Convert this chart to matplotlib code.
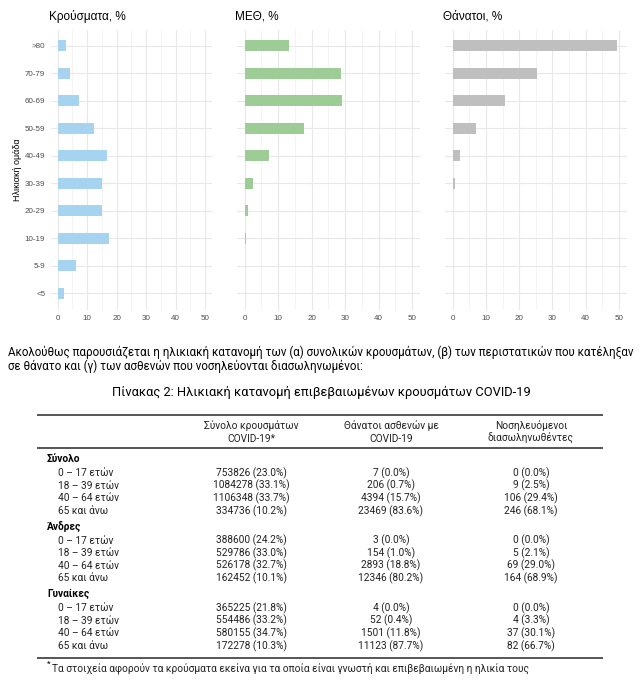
import matplotlib
matplotlib.use("Agg")
import matplotlib.pyplot as plt
import numpy as np

W, H = 642, 689

# ---------------- data ----------------
age_groups = ['<5', '5-9', '10-19', '20-29', '30-39', '40-49', '50-59', '60-69', '70-79', '>80']
cases_pct = [2.3, 6.1, 17.5, 14.9, 14.9, 16.9, 12.3, 7.3, 4.2, 2.7]
icu_pct = [0.2, 0.05, 0.3, 0.9, 2.4, 7.3, 17.6, 29.1, 28.7, 13.1]
deaths_pct = [0.0, 0.0, 0.05, 0.2, 0.6, 2.3, 6.9, 15.6, 25.2, 49.4]
panel_titles = ['Κρούσματα, %', 'ΜΕΘ, %', 'Θάνατοι, %']
x_ticks = [0, 10, 20, 30, 40, 50]

table_groups = ['Σύνολο', 'Άνδρες', 'Γυναίκες']
table_ages = ['0 – 17 ετών', '18 – 39 ετών', '40 – 64 ετών', '65 και άνω']
col_headers = ['Σύνολο κρουσμάτων\nCOVID-19*', 'Θάνατοι ασθενών με\nCOVID-19', 'Νοσηλευόμενοι\nδιασωληνωθέντες']
cases_n = [[753826, 1084278, 1106348, 334736],
           [388600, 529786, 526178, 162452],
           [365225, 554486, 580155, 172278]]
cases_p = [[23.0, 33.1, 33.7, 10.2],
           [24.2, 33.0, 32.7, 10.1],
           [21.8, 33.2, 34.7, 10.3]]
deaths_n = [[7, 206, 4394, 23469],
            [3, 154, 2893, 12346],
            [4, 52, 1501, 11123]]
deaths_p = [[0.0, 0.7, 15.7, 83.6],
            [0.0, 1.0, 18.8, 80.2],
            [0.0, 0.4, 11.8, 87.7]]
intub_n = [[0, 9, 106, 246],
           [0, 5, 69, 164],
           [0, 4, 37, 82]]
intub_p = [[0.0, 2.5, 29.4, 68.1],
           [0.0, 2.1, 29.0, 68.9],
           [0.0, 3.3, 30.1, 66.7]]

paragraph = ["Ακολούθως παρουσιάζεται η ηλικιακή κατανομή των (α) συνολικών κρουσμάτων, (β) των περιστατικών που κατέληξαν",
             "σε θάνατο και (γ) των ασθενών που νοσηλεύονται διασωληνωμένοι:"]
caption = "Πίνακας 2: Ηλικιακή κατανομή επιβεβαιωμένων κρουσμάτων COVID-19"
footnote = "Τα στοιχεία αφορούν τα κρούσματα εκείνα για τα οποία είναι γνωστή και επιβεβαιωμένη η ηλικία τους"

plt.rcParams['font.family'] = ['Liberation Sans', 'DejaVu Sans']

fig = plt.figure(figsize=(W / 100, H / 100), dpi=100)
fig.patch.set_facecolor('white')


def fy(py):
    return 1 - py / H


def fx(px):
    return px / W


# ---------------- bar panels ----------------
colors = ['#a6d3ef', '#9dcc97', '#bfbfbf']
series = [cases_pct, icu_pct, deaths_pct]
xlim = (-2.3, 52.4)
zero_fifty = [(57.7, 205.0), (244.7, 412.0), (452.7, 619.0)]
top_px, bot_px = 29.5, 309.5
ypos = np.arange(len(age_groups))

for i, (vals, col, title) in enumerate(zip(series, colors, panel_titles)):
    p0, p50 = zero_fifty[i]
    ppu = (p50 - p0) / 50.0
    left = p0 + xlim[0] * ppu
    right = p0 + xlim[1] * ppu
    ax = fig.add_axes([fx(left), fy(bot_px), (right - left) / W, (bot_px - top_px) / H])
    ax.barh(ypos, vals, height=0.4, color=col, zorder=3)
    ax.set_xlim(*xlim)
    ax.set_ylim(-0.6, len(age_groups) - 0.4)
    ax.set_xticks(x_ticks)
    ax.set_xticks([5, 15, 25, 35, 45], minor=True)
    ax.set_yticks(ypos)
    ax.grid(which='major', color='#e8e8e8', linewidth=0.8, zorder=0)
    ax.grid(which='minor', axis='x', color='#f0f0f0', linewidth=0.5, zorder=0)
    for s in ax.spines.values():
        s.set_visible(False)
    ax.tick_params(which='both', length=0, labelsize=5.8, labelcolor='#4d4d4d', pad=4)
    if i == 0:
        ax.set_yticklabels(age_groups)
        ax.set_ylabel('Ηλικιακή ομάδα', fontsize=6.5)
        ax.yaxis.set_label_coords((21.5 - left) / (right - left), 0.5)
    else:
        ax.set_yticklabels([])
    ax.set_title(title, loc='left', fontsize=8.5, pad=7, x=-0.01)

# ---------------- paragraph & caption ----------------
txt_font = ['Roboto', 'DejaVu Sans']
fig.text(fx(8), fy(352), paragraph[0], fontsize=8.3, family=txt_font, va='center', ha='left')
fig.text(fx(8), fy(366), paragraph[1], fontsize=8.3, family=txt_font, va='center', ha='left')
fig.text(fx(321), fy(392), caption, fontsize=9.3, family=txt_font, va='center', ha='center')

# ---------------- table ----------------
tax = fig.add_axes([0, 0, 1, 1])
tax.set_xlim(0, W)
tax.set_ylim(H, 0)
tax.axis('off')

rule_kw = dict(color='#555555', linewidth=1.4)
tax.plot([38, 602], [415, 415], **rule_kw)
tax.plot([38, 602], [448, 448], **rule_kw)
tax.plot([38, 602], [658, 658], **rule_kw)

col_x = [251, 391, 531]
tfs = 7.3
for cx, hdr in zip(col_x, col_headers):
    l1, l2 = hdr.split('\n')
    tax.text(cx, 426, l1, fontsize=tfs, family=txt_font, ha='center', va='center', color='#222222')
    tax.text(cx, 438.5, l2, fontsize=tfs, family=txt_font, ha='center', va='center', color='#222222')

group_y = [459, 526.5, 594]
row_dy = 12.6
for g, gname in enumerate(table_groups):
    gy = group_y[g]
    tax.text(47, gy, gname, fontsize=tfs, family=txt_font, fontweight='bold', ha='left', va='center')
    for r, age in enumerate(table_ages):
        ry = gy + 14 + r * row_dy
        tax.text(58, ry, age, fontsize=tfs, family=txt_font, ha='left', va='center', color='#222222')
        cells = [f"{cases_n[g][r]} ({cases_p[g][r]:.1f}%)",
                 f"{deaths_n[g][r]} ({deaths_p[g][r]:.1f}%)",
                 f"{intub_n[g][r]} ({intub_p[g][r]:.1f}%)"]
        for cx, c in zip(col_x, cells):
            tax.text(cx, ry, c, fontsize=tfs, family=txt_font, ha='center', va='center', color='#222222')

tax.text(47, 664, '*', fontsize=6, family=txt_font, ha='left', va='center')
tax.text(52, 668, footnote, fontsize=tfs, family=txt_font, ha='left', va='center', color='#222222')

fig.savefig('out.png', dpi=100, facecolor='white')
